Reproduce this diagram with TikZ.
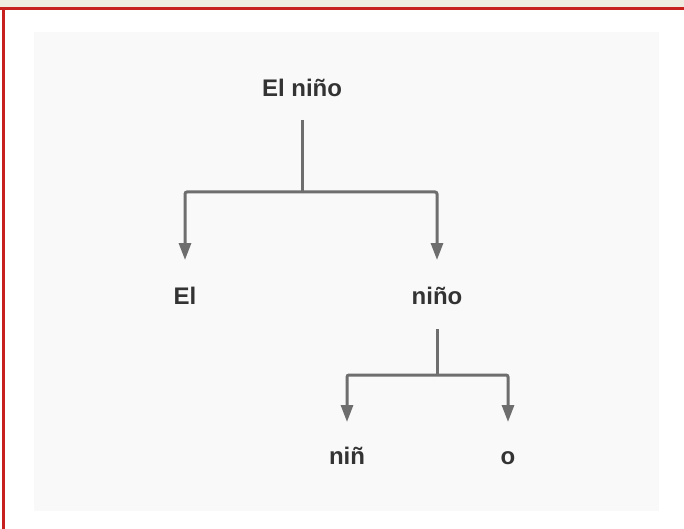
\documentclass[tikz,border=0pt]{standalone}
\usepackage{fontspec}
\setmainfont{Liberation Sans}
\usetikzlibrary{arrows.meta}
\definecolor{bandbeige}{HTML}{EFEBE0}
\definecolor{frame red}{HTML}{C8201E}
\definecolor{panelgray}{HTML}{F9F9F9}
\definecolor{linkgray}{HTML}{6E6E6E}
\definecolor{wordgray}{HTML}{333333}
\tikzset{
  word/.style={font=\fontsize{24}{26}\selectfont\bfseries, text=wordgray,
    inner sep=0pt, text height=17pt, text depth=0pt},
  link/.style={draw=linkgray, line width=3pt, rounded corners=2pt},
  down/.style={link, -{Triangle[length=17pt, width=12pt]}},
}
\begin{document}
\begin{tikzpicture}[x=1pt, y=-1pt]
  \useasboundingbox (0,0) rectangle (684,529);
  % page background and frame
  \fill[white] (0,0) rectangle (684,529);
  \fill[bandbeige] (0,0) rectangle (684,7);
  \fill[frame red] (0,7) rectangle (684,10);
  \fill[frame red] (2,7) rectangle (5,529);
  \fill[panelgray] (34,32) rectangle (659,511);

  % words
  \node[word] (root)  at (302,88)  {El niño};
  \node[word] (det)   at (185,296) {El};
  \node[word] (noun)  at (437,296) {niño};
  \node[word] (stem)  at (347,456) {niñ};
  \node[word] (suff)  at (508,456) {o};

  % junctions
  \coordinate (j1) at (302,192);
  \coordinate (j2) at (437,375);

  % first split
  \draw[link, shorten <=32pt] (root.center) -- (j1);
  \draw[down, shorten >=36pt] (j1) -| (det.center);
  \draw[down, shorten >=36pt] (j1) -| (noun.center);

  % second split
  \draw[link, shorten <=33pt] (noun.center) -- (j2);
  \draw[down, shorten >=34pt] (j2) -| (stem.center);
  \draw[down, shorten >=34pt] (j2) -| (suff.center);
\end{tikzpicture}
\end{document}
